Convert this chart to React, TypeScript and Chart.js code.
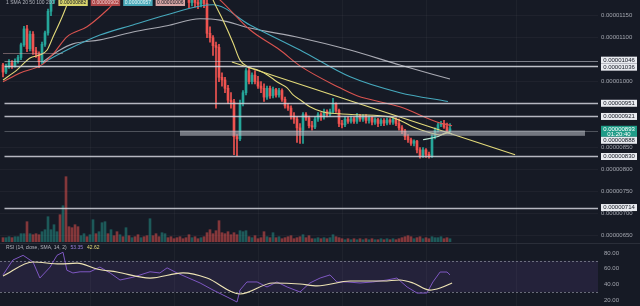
import React, { useEffect, useRef } from "react";
import { Chart, registerables } from "chart.js";

Chart.register(...registerables);

const BG = "#161a25";
const UP = "#26a69a";
const DOWN = "#ef5350";
const FONT = "'Liberation Sans', Arial, sans-serif";

// Prices in units of 0.00000001. Each candle: [open, high, low, close]; candle n is at index n+1.
const ohlc: number[][] = [
  [1038, 1042, 1011, 1022], [1022, 1040, 1018, 1035], [1035, 1050, 1030, 1043], [1043, 1048, 1030, 1036],
  [1036, 1052, 1033, 1046], [1046, 1060, 1042, 1055], [1055, 1088, 1050, 1084], [1084, 1126, 1080, 1120],
  [1120, 1128, 1068, 1075], [1075, 1115, 1070, 1108], [1108, 1114, 1062, 1070], [1070, 1078, 1055, 1062],
  [1062, 1068, 1032, 1045], [1045, 1090, 1040, 1085], [1085, 1115, 1080, 1111], [1111, 1165, 1106, 1160],
  [1160, 1195, 1150, 1185], [1185, 1250, 1178, 1232], [1232, 1290, 1225, 1280], [1280, 1300, 1240, 1250],
  [1250, 1340, 1245, 1330], [1330, 1380, 1260, 1280], [1280, 1300, 1250, 1265], [1265, 1280, 1235, 1245],
  [1245, 1262, 1225, 1235], [1235, 1250, 1215, 1228], [1228, 1250, 1222, 1245], [1245, 1262, 1238, 1258],
  [1258, 1265, 1240, 1248], [1248, 1268, 1244, 1262], [1262, 1310, 1255, 1300], [1300, 1310, 1280, 1288],
  [1288, 1305, 1282, 1298], [1298, 1340, 1292, 1332], [1332, 1370, 1325, 1362], [1362, 1372, 1340, 1348],
  [1348, 1380, 1342, 1372], [1372, 1378, 1355, 1360], [1360, 1365, 1320, 1330], [1330, 1345, 1325, 1340],
  [1340, 1348, 1328, 1334], [1334, 1370, 1330, 1362], [1362, 1368, 1348, 1352], [1352, 1362, 1346, 1358],
  [1358, 1364, 1345, 1350], [1350, 1356, 1335, 1340], [1340, 1350, 1334, 1346], [1346, 1352, 1332, 1336],
  [1336, 1342, 1320, 1325], [1325, 1370, 1320, 1360], [1360, 1366, 1340, 1345], [1345, 1350, 1320, 1326],
  [1326, 1332, 1310, 1315], [1315, 1330, 1308, 1325], [1325, 1338, 1318, 1332], [1332, 1336, 1312, 1318],
  [1318, 1322, 1296, 1300], [1300, 1305, 1280, 1285], [1285, 1290, 1262, 1268], [1268, 1272, 1245, 1250],
  [1250, 1255, 1225, 1230], [1230, 1236, 1200, 1205], [1205, 1210, 1168, 1180], [1180, 1200, 1172, 1192],
  [1192, 1196, 1170, 1180], [1180, 1188, 1166, 1176], [1176, 1198, 1170, 1190], [1190, 1195, 1168, 1178],
  [1178, 1185, 1100, 1110], [1110, 1125, 1090, 1100], [1100, 1105, 1060, 1082], [1082, 1090, 940, 1078],
  [1078, 1085, 1000, 1010], [1010, 1020, 990, 1004], [1004, 1010, 975, 985], [985, 992, 950, 958],
  [958, 975, 940, 954], [954, 960, 834, 875], [875, 880, 832, 870], [870, 958, 866, 950],
  [950, 980, 945, 975], [975, 1030, 970, 1025], [1025, 1032, 995, 1000], [1000, 1020, 995, 1015],
  [1015, 1025, 995, 1000], [1000, 1012, 985, 990], [990, 1000, 975, 985], [985, 995, 955, 965],
  [965, 990, 960, 985], [985, 990, 962, 968], [968, 988, 963, 982], [982, 985, 965, 970],
  [970, 985, 965, 980], [980, 984, 955, 960], [960, 965, 940, 945], [945, 950, 935, 940],
  [940, 945, 915, 922], [922, 930, 905, 915], [915, 920, 862, 895], [895, 905, 860, 890],
  [890, 930, 860, 925], [925, 930, 912, 918], [918, 922, 895, 900], [900, 910, 890, 897],
  [897, 920, 893, 915], [915, 930, 910, 925], [925, 930, 912, 920], [920, 938, 915, 932],
  [932, 936, 920, 926], [926, 938, 922, 932], [932, 962, 928, 950], [950, 952, 930, 935],
  [935, 938, 898, 905], [905, 912, 895, 902], [902, 920, 898, 915], [915, 920, 905, 910],
  [910, 922, 906, 916], [916, 920, 905, 910], [910, 928, 905, 922], [922, 926, 910, 915],
  [915, 925, 910, 920], [920, 925, 906, 912], [912, 922, 906, 918], [918, 921, 902, 908],
  [908, 918, 903, 914], [914, 917, 898, 905], [905, 916, 900, 912], [912, 916, 900, 906],
  [906, 918, 902, 913], [913, 916, 903, 908], [908, 918, 903, 914], [914, 918, 900, 905],
  [905, 915, 890, 895], [895, 900, 882, 888], [888, 892, 868, 875], [875, 880, 862, 868],
  [868, 872, 855, 860], [860, 868, 854, 865], [865, 867, 838, 845], [845, 850, 826, 832],
  [832, 850, 828, 845], [845, 848, 828, 835], [835, 840, 826, 830], [830, 880, 828, 875],
  [875, 895, 870, 890], [890, 906, 886, 902], [902, 910, 898, 905], [905, 912, 894, 897],
  [897, 906, 886, 888], [888, 905, 885, 893],
];

const volumes = [
  4, 4, 5, 4, 5, 5, 8, 8, 20, 8, 7, 8, 7, 10, 12, 25, 12, 17, 10, 27,
  36, 65, 15, 14, 17, 15, 6, 8, 5, 7, 22, 8, 10, 19, 20, 8, 12, 6, 10, 7,
  5, 14, 6, 4, 5, 7, 4, 5, 6, 23, 6, 8, 5, 9, 8, 4, 5, 3, 4, 5,
  3, 4, 7, 4, 5, 3, 4, 5, 9, 12, 8, 11, 21, 9, 8, 10, 7, 9, 7, 11,
  10, 11, 5, 4, 6, 3, 4, 10, 5, 4, 9, 4, 5, 3, 4, 5, 6, 3, 4, 5,
  7, 4, 6, 3, 3, 4, 3, 4, 3, 4, 7, 5, 4, 3, 2, 3, 2, 3, 2, 3,
  2, 3, 2, 3, 2, 2, 3, 2, 3, 2, 3, 2, 3, 4, 5, 6, 5, 3, 4, 5,
  3, 4, 3, 5, 4, 4, 5, 3, 4, 3,
];

// [candle index, price]
const sma20 = [
  [1, 1004], [5.7, 1027], [10, 1054], [13.3, 1061], [15.7, 1072], [17.7, 1102], [20.7, 1147], [22.7, 1181],
  [27, 1260], [45, 1330], [60, 1300], [68, 1240], [71, 1186], [74.3, 1140], [77.7, 1088], [80, 1049],
  [82.7, 1034], [85.7, 1027], [89, 1016], [92.3, 1000], [95.7, 986], [97.7, 970], [100, 959], [103.3, 943],
  [107.7, 931], [113.3, 927], [119, 925], [130, 920], [134.3, 909], [137.7, 897], [143.3, 884], [146.7, 879],
  [150, 886],
];
const sma50 = [
  [1, 1000], [6.7, 1020], [14.3, 1040], [18.3, 1068], [22.3, 1102], [29, 1125], [35.7, 1163], [39, 1186],
  [50, 1240], [62, 1250], [73.3, 1186], [83.3, 1118], [93.3, 1072], [100, 1036], [113.3, 986], [119, 968],
  [133.3, 943], [146.7, 906], [150.7, 900],
];
const sma100 = [
  [14.3, 1043], [22.3, 1072], [33.3, 1106], [44.3, 1129], [55.7, 1152], [66.7, 1172], [71, 1175], [83.3, 1129],
  [100, 1072], [116.7, 1011], [133.3, 975], [149.3, 955],
];
const sma200 = [
  [14.3, 1045], [20, 1072], [24.3, 1086], [33.3, 1095], [44.3, 1113], [55.7, 1127], [66.7, 1143], [73.3, 1140],
  [83.3, 1122], [100, 1100], [116.7, 1072], [133.3, 1038], [150, 1006],
];
const ema9 = [[141, 868], [145.7, 875], [149, 884], [150.7, 881]];
const trendLine = [[77.3, 1045], [171.7, 834]];
const hSegment = [[1, 1066], [21, 1066]];

const rsi = [
  [1, 52], [4.3, 71], [7.7, 77], [11, 68.5], [13.3, 48], [16.7, 62], [19, 77], [21, 81], [22.3, 58],
  [24.3, 54.5], [26.7, 56], [30, 56], [33.3, 62], [36.7, 54.5], [40, 45.5], [44.3, 49], [50, 56],
  [53.3, 54.5], [55.7, 61], [59, 54.5], [62.3, 49], [66.7, 41.7], [71, 32.7], [75.7, 23.8], [79, 17.4],
  [80, 32.7], [82.3, 43], [85.7, 43], [89, 36.6], [92.3, 43], [95.7, 36.6], [100, 30.2], [103.3, 41.7],
  [106.7, 48], [110, 52], [112.3, 43], [115.7, 43], [120, 41.7], [124.3, 43], [129, 45.5], [132.3, 48],
  [135.7, 36.6], [139, 28.9], [142.3, 28.9], [144.3, 43], [146.7, 55.7], [149, 55.7], [150, 52],
];
const rsiMa = [
  [1, 50.6], [11, 68.5], [20, 66], [25.7, 67], [32.3, 59.6], [39, 55.7], [50, 48], [61, 54.5], [69, 48],
  [80, 27.6], [91, 41.7], [100, 40.4], [105.7, 37.9], [116.7, 44.2], [127.7, 44.2], [133.3, 45.5],
  [137.7, 41.7], [143.3, 32.7], [146.7, 35.3], [150.7, 41.7],
];

const priceTicks = [1150, 1100, 1000, 850, 800, 750, 700, 650];
const rsiTicks = [80, 60, 40, 20];
const levels = [1046, 1036, 951, 921, 888, 830, 714];
const levelAlpha = [0.55, 0.9, 0.85, 0.85, 0.3, 0.85, 0.85];
const zone = [889, 877];
const zoneSpan = [60, 195];
const lastPrice = 893;
const countdown = "01:20:40";
const smaTitle = "1 SMA 20 50 100 200";
const smaLegend = [882, 902, 957, 1006];
const rsiTitle = "RSI (14, close, SMA, 14, 2)";
const rsiLegend = ["53.35", "42.62"];
const timeGrid = [30, 58, 86, 114, 142, 172];

const fmt = (v: number) => (v / 1e8).toFixed(8);
const pts = (a: number[][]) => a.map(([x, y]) => ({ x, y }));

function lineDs(data: number[][], color: string, width: number, axis: string, order: number, mono = true) {
  return {
    type: "line" as const,
    data: pts(data),
    borderColor: color,
    borderWidth: width,
    pointRadius: 0,
    cubicInterpolationMode: mono ? ("monotone" as const) : ("default" as const),
    tension: 0,
    xAxisID: "x",
    yAxisID: axis,
    order,
  };
}

const overlay = {
  id: "overlay",
  beforeDraw(c: any) {
    const { ctx, width, height } = c;
    ctx.save();
    ctx.fillStyle = BG;
    ctx.fillRect(0, 0, width, height);
    ctx.restore();
  },
  beforeDatasetsDraw(c: any) {
    const { ctx, chartArea: a, scales } = c;
    const x = scales.x, yr = scales.yr;
    ctx.save();
    ctx.strokeStyle = "rgba(255,255,255,0.035)";
    ctx.lineWidth = 1;
    timeGrid.forEach((t) => {
      const px = Math.round(x.getPixelForValue(t)) + 0.5;
      ctx.beginPath(); ctx.moveTo(px, a.top); ctx.lineTo(px, a.bottom); ctx.stroke();
    });
    const sep = Math.round(yr.getPixelForValue(93)) + 0.5;
    ctx.strokeStyle = "#2a2e39";
    ctx.beginPath(); ctx.moveTo(0, sep); ctx.lineTo(c.width, sep); ctx.stroke();
    const y70 = yr.getPixelForValue(70), y30 = yr.getPixelForValue(30);
    ctx.fillStyle = "rgba(126,87,194,0.14)";
    ctx.fillRect(a.left, y70, a.right - a.left, y30 - y70);
    ctx.strokeStyle = "rgba(140,143,155,0.7)";
    ctx.setLineDash([2, 2]);
    [y70, y30].forEach((yy) => {
      const p = Math.round(yy) + 0.5;
      ctx.beginPath(); ctx.moveTo(a.left, p); ctx.lineTo(a.right, p); ctx.stroke();
    });
    ctx.restore();
  },
  afterDatasetsDraw(c: any) {
    const { ctx, chartArea: a, scales } = c;
    const x = scales.x, y = scales.y;
    ctx.save();
    const zt = y.getPixelForValue(zone[0]), zb = y.getPixelForValue(zone[1]);
    const zl = x.getPixelForValue(zoneSpan[0]), zr = x.getPixelForValue(zoneSpan[1]);
    ctx.fillStyle = "rgba(178,181,190,0.6)";
    ctx.fillRect(zl, zt, zr - zl, zb - zt);
    levels.forEach((v, k) => {
      const py = Math.round(y.getPixelForValue(v)) + 0.5;
      ctx.strokeStyle = `rgba(209,212,220,${levelAlpha[k]})`;
      ctx.lineWidth = levelAlpha[k] > 0.6 ? 1.5 : 1;
      ctx.beginPath(); ctx.moveTo(x.getPixelForValue(1.5), py); ctx.lineTo(a.right, py); ctx.stroke();
    });
    const sy = Math.round(y.getPixelForValue(hSegment[0][1])) + 0.5;
    ctx.strokeStyle = "rgba(210,170,170,0.45)";
    ctx.lineWidth = 1;
    ctx.beginPath(); ctx.moveTo(x.getPixelForValue(hSegment[0][0]), sy); ctx.lineTo(x.getPixelForValue(hSegment[1][0]), sy); ctx.stroke();
    ctx.restore();
  },
  afterDraw(c: any) {
    const { ctx, chartArea: a, scales } = c;
    const y = scales.y, yr = scales.yr;
    ctx.save();
    ctx.textBaseline = "middle";
    ctx.font = `6px ${FONT}`;
    ctx.fillStyle = "#a3a6af";
    ctx.textAlign = "left";
    rsiTicks.forEach((v) => ctx.fillText(v.toFixed(2), a.right + 6, yr.getPixelForValue(v)));
    const items: any[] = levels.map((v) => ({ v, h: 7, fixed: false, green: false }));
    items.push({ v: lastPrice, h: 11, fixed: true, green: true });
    items.forEach((it) => {
      it.y = y.getPixelForValue(it.v);
      it.top = it.green ? it.y - 3 : it.y - it.h / 2;
    });
    items.sort((p, q) => p.top - q.top);
    for (let k = 1; k < items.length; k++) {
      const p = items[k - 1], q = items[k];
      const d = p.top + p.h - q.top;
      if (d > 0) {
        if (p.fixed) q.top += d;
        else if (q.fixed) p.top -= d;
        else { p.top -= d / 2; q.top += d / 2; }
      }
    }
    const bx = a.right + 3, bw = 36;
    ctx.textAlign = "center";
    items.forEach((it) => {
      ctx.fillStyle = it.green ? "#1f9c88" : "#e9ebf0";
      ctx.fillRect(bx, it.top, bw, it.h);
      ctx.fillStyle = it.green ? "#ffffff" : "#131722";
      ctx.fillText(fmt(it.v), bx + bw / 2, it.top + (it.green ? 3.2 : 3.6));
      if (it.green) ctx.fillText(countdown, bx + bw / 2, it.top + 8.2);
    });
    // top legend
    ctx.textAlign = "left";
    ctx.font = `5px ${FONT}`;
    ctx.fillStyle = "#b2b5be";
    ctx.fillText(smaTitle, 6, 3);
    const lbg = ["#d7d36c", "rgba(200,80,80,0.85)", "#4aa9b9", "#d6a4a4"];
    const lfg = ["#131722", "#f4d0d0", "#e8f6f8", "#131722"];
    let lx = 6 + ctx.measureText(smaTitle).width + 4;
    smaLegend.forEach((v, k) => {
      const t = fmt(v);
      const w = ctx.measureText(t).width + 3;
      ctx.fillStyle = lbg[k];
      ctx.fillRect(lx, 0, w, 6);
      ctx.fillStyle = lfg[k];
      ctx.fillText(t, lx + 1.5, 3);
      lx += w + 3;
    });
    // RSI legend
    const ly = 248;
    ctx.fillStyle = "#b2b5be";
    ctx.fillText(rsiTitle, 6, ly);
    let rx = 6 + ctx.measureText(rsiTitle).width + 4;
    ctx.fillStyle = "#9b7fe0";
    ctx.fillText(rsiLegend[0], rx, ly);
    rx += ctx.measureText(rsiLegend[0]).width + 4;
    ctx.fillStyle = "#e6dc78";
    ctx.fillText(rsiLegend[1], rx, ly);
    ctx.restore();
  },
};

export default function App() {
  const ref = useRef<HTMLCanvasElement | null>(null);
  useEffect(() => {
    document.body.style.margin = "0";
    document.body.style.background = BG;
    const colors = ohlc.map((c) => (c[3] >= c[0] ? UP : DOWN));
    const volColors = ohlc.map((c) => (c[3] >= c[0] ? "rgba(38,166,154,0.45)" : "rgba(239,83,80,0.5)"));
    const chart = new Chart(ref.current as HTMLCanvasElement, {
      type: "bar",
      data: {
        datasets: [
          lineDs(sma20, "#e3da7a", 1.1, "y", 1),
          lineDs(trendLine, "#e3da7a", 1.1, "y", 1, false),
          lineDs(ema9, "#bfe8d6", 1.1, "y", 1),
          lineDs(sma50, "#d9534f", 1.1, "y", 2),
          lineDs(sma100, "#46a9bd", 1.1, "y", 3),
          lineDs(sma200, "#a9aab3", 1.1, "y", 4),
          lineDs(rsiMa, "#eee4b4", 1.2, "yr", 1),
          lineDs(rsi, "#7e57c2", 1, "yr", 2, false),
          {
            type: "bar" as const,
            data: ohlc.map((c, k) => ({ x: k + 1, y: [c[0], c[3]] })),
            backgroundColor: colors,
            barThickness: 2,
            minBarLength: 1,
            grouped: false,
            xAxisID: "x",
            yAxisID: "y",
            order: 6,
          },
          {
            type: "bar" as const,
            data: ohlc.map((c, k) => ({ x: k + 1, y: [c[2], c[1]] })),
            backgroundColor: colors,
            barThickness: 1,
            grouped: false,
            xAxisID: "x",
            yAxisID: "y",
            order: 7,
          },
          {
            type: "bar" as const,
            data: volumes.map((v, k) => ({ x: k + 1, y: v })),
            backgroundColor: volColors,
            barThickness: 2,
            grouped: false,
            xAxisID: "x",
            yAxisID: "yv",
            order: 8,
          },
        ] as any,
      },
      options: {
        responsive: false,
        maintainAspectRatio: false,
        animation: false,
        events: [],
        layout: { padding: 0 },
        plugins: { legend: { display: false }, tooltip: { enabled: false } },
        scales: {
          x: { type: "linear", display: false, offset: false, min: 0, max: 598 / 3 },
          y: {
            type: "linear",
            position: "right",
            min: 490.2,
            max: 1185.7,
            afterBuildTicks: (s: any) => { s.ticks = priceTicks.map((v) => ({ value: v })); },
            afterFit: (s: any) => { s.width = 42; s.paddingTop = 0; s.paddingBottom = 0; },
            ticks: {
              autoSkip: false,
              color: "#a3a6af",
              font: { size: 6, family: FONT },
              padding: 3,
              callback: (v: any) => fmt(Number(v)),
            },
            grid: { color: "rgba(255,255,255,0.04)", drawTicks: false },
            border: { display: false },
          },
          yv: { type: "linear", display: false, min: -64.3, max: 241.7 },
          yr: { type: "linear", display: false, min: 12.3, max: 403.1 },
        } as any,
      },
      plugins: [overlay],
    } as any);
    return () => chart.destroy();
  }, []);
  return (
    <div style={{ position: "fixed", left: 0, top: 0, width: 640, height: 306, background: BG }}>
      <canvas ref={ref} width={640} height={306} style={{ display: "block", width: 640, height: 306 }} />
    </div>
  );
}
